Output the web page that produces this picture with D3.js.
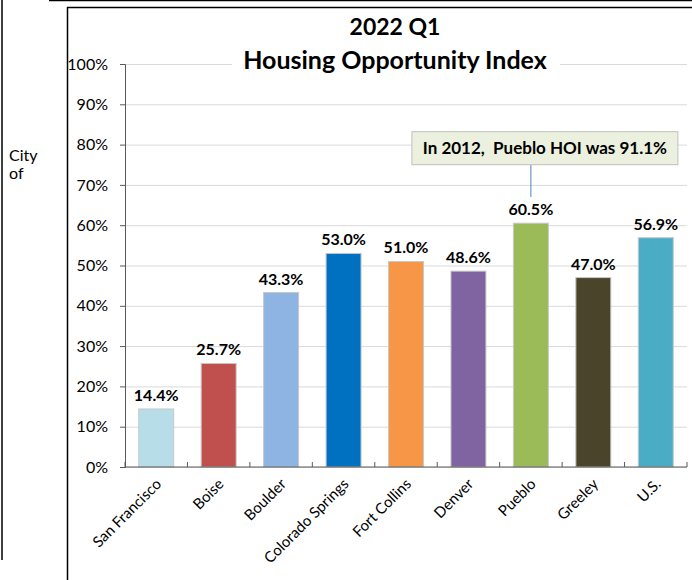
<!DOCTYPE html>
<html>
<head>
<meta charset="utf-8">
<script src="https://cdn.jsdelivr.net/npm/d3@7"></script>
<style>
body { margin: 0; background: #fff; font-family: Lato, "Open Sans", sans-serif; }
.grid line { stroke: #d9d9d9; }
.grid path { display: none; }
.axis path, .axis line { stroke: #595959; }
.axis text { fill: #000; font-size: 16px; font-family: Lato, sans-serif; }
</style>
</head>
<body>
<div id="chart"></div>
<script>
const cities = ['San Francisco', 'Boise', 'Boulder', 'Colorado Springs', 'Fort Collins', 'Denver', 'Pueblo', 'Greeley', 'U.S.'];
const hoi = [14.4, 25.7, 43.3, 53.0, 51.0, 48.6, 60.5, 47.0, 56.9];
const barColors = ['#b7dde8', '#c0504d', '#8eb4e3', '#0070c0', '#f79646', '#8064a2', '#9bbb59', '#4a452a', '#4bacc6'];
const yTicks = [0, 10, 20, 30, 40, 50, 60, 70, 80, 90, 100];
const titleLines = ['2022 Q1', 'Housing Opportunity Index'];
const note = 'In 2012,  Pueblo HOI was 91.1%';
const noteCity = 'Pueblo';

const W = 692, H = 580;
const svg = d3.select('#chart').append('svg')
    .attr('width', W)
    .attr('height', H);

// page frame bits around the chart
svg.append('line').attr('x1', 2).attr('x2', 2).attr('y1', 0).attr('y2', 560)
    .attr('stroke', '#000').attr('stroke-width', 1.5);
svg.append('line').attr('x1', 49).attr('x2', 692).attr('y1', 0.5).attr('y2', 0.5)
    .attr('stroke', '#000').attr('stroke-width', 1.5);
svg.append('text').attr('x', 9).attr('y', 161).style('font-size', '16px').text('City');
svg.append('text').attr('x', 9).attr('y', 179).style('font-size', '16px').text('of');

// chart box
svg.append('path')
    .attr('d', 'M67.5,580 V7.5 H692')
    .attr('fill', 'none').attr('stroke', '#000').attr('stroke-width', 1.5);

const margin = { left: 125, right: 5, top: 64, bottom: 113 };
const width = W - margin.left - margin.right;
const height = H - margin.top - margin.bottom;

const g = svg.append('g').attr('transform', `translate(${margin.left},${margin.top})`);

const x = d3.scaleBand().domain(cities).range([0, width]).paddingInner(0.44).paddingOuter(0.22);
const y = d3.scaleLinear().domain([0, 100]).range([height, 0]);

g.append('g')
    .attr('class', 'grid')
    .call(d3.axisLeft(y).tickValues(yTicks).tickSize(-width).tickFormat(''));

// bars
g.selectAll('.bar')
    .data(cities)
    .enter()
    .append('rect')
    .attr('x', d => x(d))
    .attr('y', (d, i) => y(hoi[i]))
    .attr('width', x.bandwidth())
    .attr('height', (d, i) => height - y(hoi[i]))
    .attr('fill', (d, i) => barColors[i])
    .attr('stroke', '#c8c8c8')
    .attr('stroke-width', 1);

// value labels
g.selectAll('.val')
    .data(cities)
    .enter()
    .append('text')
    .attr('x', d => x(d) + x.bandwidth() / 2)
    .attr('y', (d, i) => y(hoi[i]) - 8)
    .attr('text-anchor', 'middle')
    .style('font-size', '16px')
    .style('font-weight', 'bold')
    .text((d, i) => hoi[i].toFixed(1) + '%');

// axes
g.append('g')
    .attr('class', 'axis')
    .call(d3.axisLeft(y).tickValues(yTicks).tickSize(5).tickPadding(12).tickFormat(d => d + '%'));

const step = width / cities.length;
const xAxis = g.append('g')
    .attr('class', 'axis')
    .attr('transform', `translate(0,${height})`);
xAxis.append('line').attr('x1', 0).attr('x2', width).attr('stroke', '#595959');
xAxis.selectAll('.tk')
    .data(d3.range(cities.length + 1))
    .enter()
    .append('line')
    .attr('x1', d => d * step).attr('x2', d => d * step)
    .attr('y1', 0).attr('y2', -5)
    .attr('stroke', '#595959');
xAxis.selectAll('.lbl')
    .data(cities)
    .enter()
    .append('text')
    .attr('transform', d => `translate(${x(d) + x.bandwidth() / 2 + 6},${18}) rotate(-45)`)
    .attr('text-anchor', 'end')
    .style('font-size', '15px')
    .text(d => d);

// title
const tcx = width / 2 - 11;
const tg = g.append('g');
tg.append('rect')
    .attr('x', tcx - 163).attr('y', -6).attr('width', 328).attr('height', 12)
    .attr('fill', '#fff');
tg.selectAll('text')
    .data(titleLines)
    .enter()
    .append('text')
    .attr('x', tcx)
    .attr('y', (d, i) => -29 + i * 34)
    .attr('text-anchor', 'middle')
    .style('font-size', (d, i) => i === 0 ? '23px' : '25px')
    .style('font-weight', 'bold')
    .text(d => d);

// annotation
const nx = x(noteCity) + x.bandwidth() / 2;
g.append('line')
    .attr('x1', nx).attr('x2', nx)
    .attr('y1', y(75)).attr('y2', y(67))
    .attr('stroke', '#4f81bd');
g.append('rect')
    .attr('x', nx - 119).attr('y', y(83.2))
    .attr('width', 266).attr('height', 33)
    .attr('fill', '#ebf1de')
    .attr('stroke', '#bfbfbf');
g.append('text')
    .attr('x', nx + 14).attr('y', y(83.2) + 22)
    .attr('text-anchor', 'middle')
    .attr('xml:space', 'preserve')
    .style('white-space', 'pre')
    .style('font-size', '17px')
    .style('font-weight', 'bold')
    .text(note);
</script>
</body>
</html>
